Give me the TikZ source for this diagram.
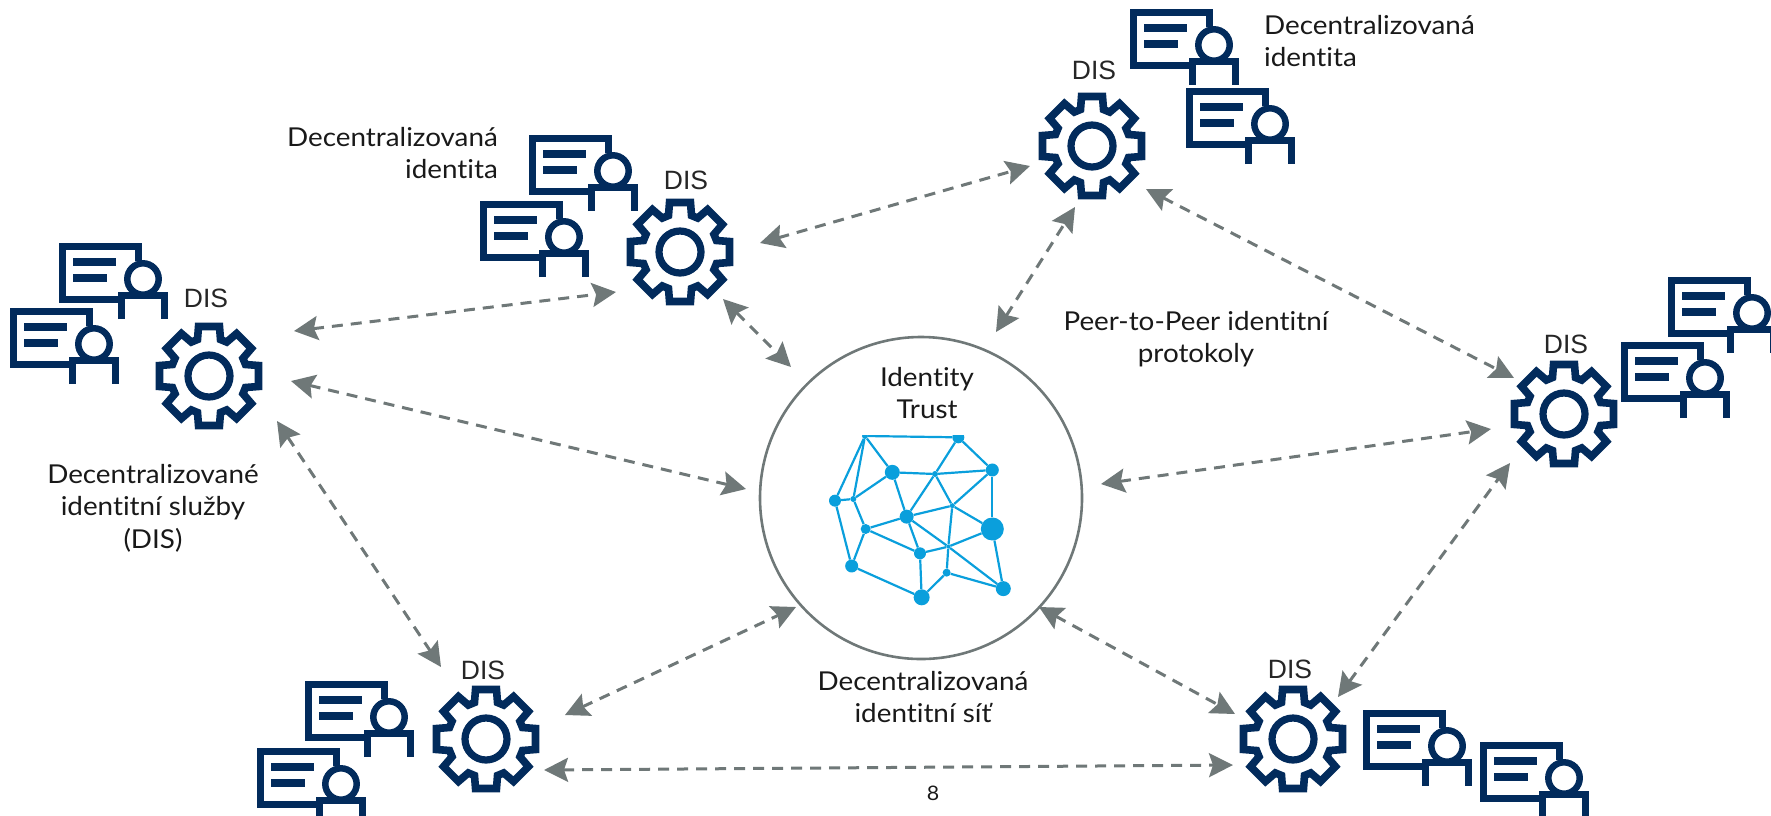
\documentclass[tikz,border=0pt]{standalone}
\usepackage{fontspec}
\setmainfont[FakeStretch=1.07,Ligatures=NoCommon]{Lato}
\newfontfamily\arialf{Liberation Sans}
\usetikzlibrary{arrows.meta}
\definecolor{navy}{HTML}{022B5C}
\definecolor{netblue}{HTML}{0A9FDC}
\definecolor{arrowgray}{HTML}{6F7878}
\tikzset{
  x=1pt,y=-1pt,
  lab/.style={font=\fontsize{26}{32.5}\selectfont,text=black!90,inner sep=0pt,align=center},
  dislabel/.style={font=\arialf\fontsize{26.5}{30}\selectfont,text=black!85,inner sep=0pt},
  link/.style={draw=arrowgray,line width=3pt,dash pattern=on 11pt off 8pt,{Stealth[length=24pt,width=24pt,inset=4pt]}-{Stealth[length=24pt,width=24pt,inset=4pt]}},
  netnode/.style={circle,fill=netblue,inner sep=0pt,minimum size=#1},
  netedge/.style={draw=netblue,line width=2.2pt},
  iconline/.style={draw=navy,line width=7pt,line join=miter},
  gearicon/.pic={
    \draw[iconline,line width=7.6pt] (36.5,-11.5) \foreach \a in {0,45,...,315}{
       -- ([rotate=-\a]36.5,-11.5) -- ([rotate=-\a]49.5,-10.5) -- ([rotate=-\a]49.5,10.5) -- ([rotate=-\a]36.5,11.5)} -- cycle;
    \draw[draw=navy,line width=7.2pt] (0,0) circle[radius=21];
  },
  certicon/.pic={
    \draw[iconline] (79,18) -- (79,3.5) -- (3.5,3.5) -- (3.5,56.5) -- (60,56.5);
    \fill[navy] (14,15) rectangle (57,22.5);
    \fill[navy] (14,31) rectangle (48,38.5);
    \draw[iconline,line width=6.5pt] (84,36) circle[radius=15.7];
    \draw[iconline] (62,76) -- (62,52) -- (105,52) -- (105,76);
  }
}
\begin{document}
\begin{tikzpicture}
\useasboundingbox (0,0) rectangle (1771,815);
\clip (0,0) rectangle (1771,815);
% gears
\pic (gA) at (209,376) {gearicon};
\pic (gB) at (680,252) {gearicon};
\pic (gC) at (1092,146) {gearicon};
\pic (gD) at (1564,414) {gearicon};
\pic (gE) at (486,739) {gearicon};
\pic (gF) at (1293,739) {gearicon};
% certificates
\pic (cA1) at (59,243) {certicon};
\pic (cA2) at (10,308) {certicon};
\pic (cB1) at (529,135) {certicon};
\pic (cB2) at (480,201) {certicon};
\pic (cC1) at (1130,9) {certicon};
\pic (cC2) at (1186,88) {certicon};
\pic (cD1) at (1668,277) {certicon};
\pic (cD2) at (1621,342) {certicon};
\pic (cE1) at (305,681) {certicon};
\pic (cE2) at (257,748) {certicon};
\pic (cF1) at (1363,710) {certicon};
\pic (cF2) at (1480,742) {certicon};
% DIS labels
\node[dislabel] (dA) at (206,298) {DIS};
\node[dislabel] (dB) at (686,180) {DIS};
\node[dislabel] (dC) at (1094,70) {DIS};
\node[dislabel] (dD) at (1566,344) {DIS};
\node[dislabel] (dE) at (483,670) {DIS};
\node[dislabel] (dF) at (1290,669) {DIS};
% central circle
\node[circle,draw=arrowgray,line width=2.6pt,minimum size=322pt,inner sep=0pt] (trust) at (921,498) {};
\begin{scope}[shift={(740,350)},x=0.3333pt,y=-0.3333pt]
\clip (200,256) rectangle (860,800);
\foreach \n/\px/\py/\s in {a/375/258/6,b/655/262/12,c/457/367/15,d/585/372/6,e/757/360/13,f/285/452/12,g/340/447/6,h/500/500/14,i/637/467/5,j/757/537/23,k/377/537/10,l/540/610/12,m/625/590/4,n/335/648/13,o/620/668/8,p/545/742/16,q/790/716/15}
  \node[netnode=\s pt] (\n) at (\px,\py) {};
\foreach \u/\v in {a/b,a/c,a/f,a/g,b/d,b/e,c/d,d/e,c/g,g/f,c/h,d/h,d/i,e/i,e/j,h/i,i/j,i/m,m/o,h/k,h/l,h/m,k/g,k/l,k/n,f/n,l/m,m/j,l/p,n/p,p/o,o/q,m/q,j/q}
  \draw[netedge] (\u) -- (\v);
\end{scope}
% arrow ends
\coordinate (a1s) at (294,331); \coordinate (a1e) at (616,292);
\coordinate (a2s) at (291,381); \coordinate (a2e) at (746,489);
\coordinate (a3s) at (277,421); \coordinate (a3e) at (441,667);
\coordinate (a4s) at (760,243); \coordinate (a4e) at (1030,166);
\coordinate (a5s) at (723,299); \coordinate (a5e) at (791,367);
\coordinate (a6s) at (996,332); \coordinate (a6e) at (1075,207);
\coordinate (a7s) at (1146,189); \coordinate (a7e) at (1514,378);
\coordinate (a8s) at (1101,484); \coordinate (a8e) at (1491,429);
\coordinate (a9s) at (1338,697); \coordinate (a9e) at (1510,463);
\coordinate (a10s) at (1039,607); \coordinate (a10e) at (1235,714);
\coordinate (a11s) at (565,715); \coordinate (a11e) at (796,607);
\coordinate (a12s) at (544,770); \coordinate (a12e) at (1233,765);
\foreach \i in {1,...,12} \draw[link] (a\i s) -- (a\i e);
% texts
\node[lab,align=right,anchor=east] (t1) at (498,153) {Decentralizovaná\\identita};
\node[lab,align=left,anchor=west] (t2) at (1264,41) {Decentralizovaná\\identita};
\node[lab] (t3) at (153,508) {Decentralizované\\identitní služby\\(DIS)};
\node[lab] (t4) at (1196,339) {Peer-to-Peer identitní\\protokoly};
\node[lab] (t5) at (927,393) {Identity\\Trust};
\node[lab] (t6) at (923,697) {Decentralizovaná\\identitní síť};
\node[lab,font=\fontsize{20}{24}\selectfont] (t7) at (933,793) {8};
\end{tikzpicture}
\end{document}
